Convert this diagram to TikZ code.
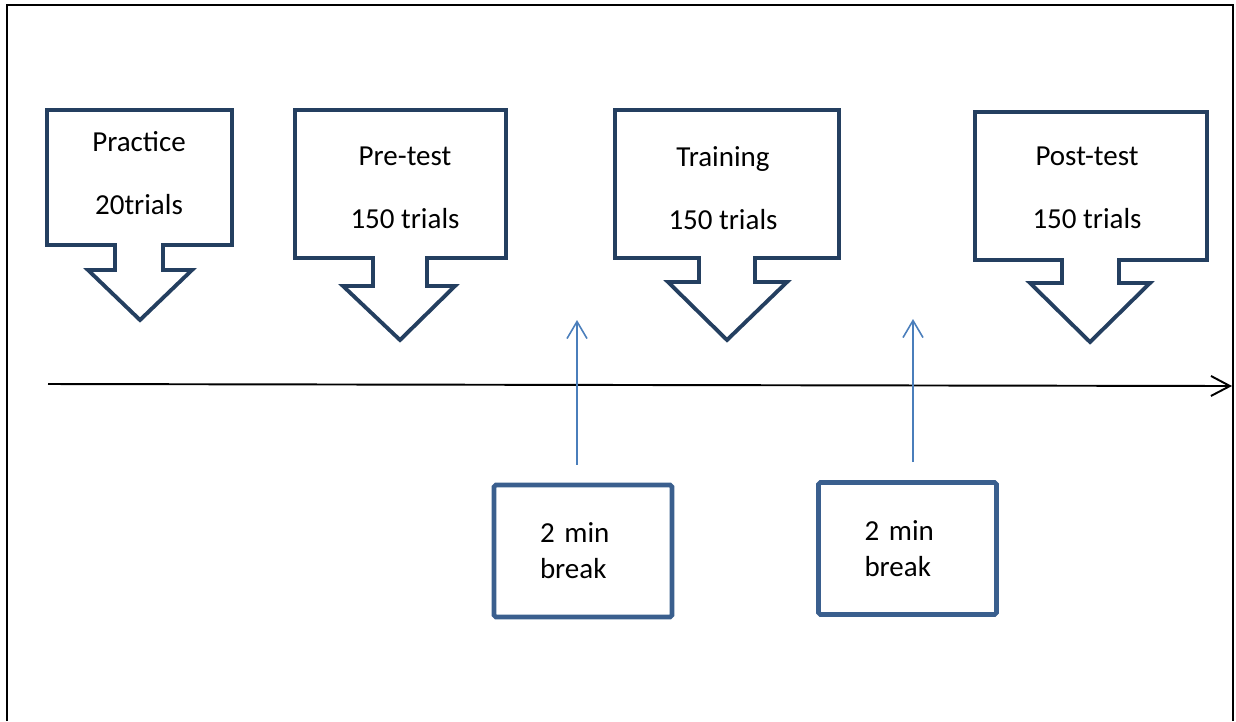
\documentclass[tikz,border=0pt]{standalone}
\usepackage{fontspec}
\setmainfont{Carlito}
\usetikzlibrary{arrows.meta}

\definecolor{calloutnavy}{HTML}{243F60}
\definecolor{brkblue}{HTML}{3A5F8E}
\definecolor{uparrow}{HTML}{4A7EBB}

\begin{document}
\begin{tikzpicture}[x=0.02cm, y=-0.02cm,
    callout/.style={draw=calloutnavy, line width=2.2pt, line join=miter},
    stagetxt/.style={align=center, font=\fontsize{16.5}{35.7}\selectfont},
    brkbox/.style={draw=brkblue, line width=2.6pt, rounded corners=1pt, minimum height=2.64cm,
        text width=1.72cm, inner xsep=0.92cm, align=left, font=\fontsize{16.5}{20.4}\selectfont},
    brkarrow/.style={draw=uparrow, line width=0.9pt, -{Straight Barb[length=0.34cm, width=0.4cm]}, shorten <=0.36cm},
    timeline/.style={line width=1.1pt, -{Straight Barb[length=0.38cm, width=0.4cm]}}]
    \useasboundingbox (0,0) rectangle (1236,721);

    % frame
    \draw[line width=1.1pt] (7,721) -- (7,5) -- (1233,5) -- (1233,721);

    % stages
    \draw[callout] (47,110) -- (232,110) -- (232,245) -- (163,245) -- (163,270) -- (192,270)
        -- (140,320) -- (88,270) -- (115,270) -- (115,245) -- (47,245) -- cycle;
    \draw[callout] (295,110) -- (506,110) -- (506,258) -- (427,258) -- (427,286) -- (455,286)
        -- (400,340) -- (343,286) -- (373,286) -- (373,258) -- (295,258) -- cycle;
    \draw[callout] (615,110) -- (839,110) -- (839,258) -- (755,258) -- (755,282) -- (787,282)
        -- (727,340) -- (668,282) -- (699,282) -- (699,258) -- (615,258) -- cycle;
    \draw[callout] (975,112) -- (1207,112) -- (1207,260) -- (1119,260) -- (1119,283) -- (1150,283)
        -- (1090,342) -- (1030,283) -- (1062,283) -- (1062,260) -- (975,260) -- cycle;

    \node[stagetxt] (practice) at (139,173) {Practice\\20trials};
    \node[stagetxt] (pretest) at (405,188) {Pre-test\\150 trials};
    \node[stagetxt] (training) at (723,188) {Training\\150 trials};
    \node[stagetxt] (posttest) at (1087,188) {Post-test\\150 trials};

    % time axis
    \coordinate (tstart) at (48,384);
    \coordinate (tend) at (1232,386);
    \draw[timeline] (tstart) -- (tend);

    % breaks
    \node[brkbox] (brk1) at (583,551) {2 min\\break};
    \node[brkbox] (brk2) at (907.5,548.5) {2 min\\break};

    \coordinate (up1) at (577,320);
    \coordinate (up2) at (913,319);
    \draw[brkarrow] (brk1.north -| up1) -- (up1);
    \draw[brkarrow] (brk2.north -| up2) -- (up2);
\end{tikzpicture}
\end{document}
